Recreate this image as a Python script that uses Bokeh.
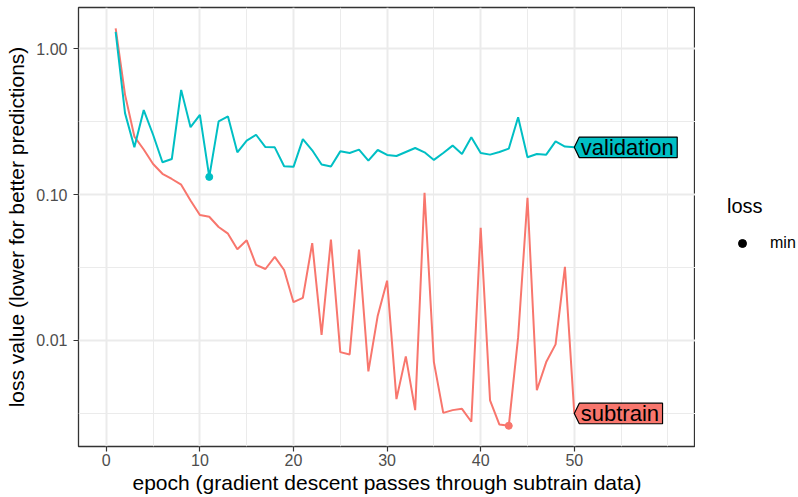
import math
from bokeh.plotting import figure
from bokeh.layouts import row
from bokeh.models import (Range1d, FixedTicker, CustomJSTickFormatter, Legend, LegendItem)
from bokeh.core.properties import value
from bokeh.embed import file_html
from bokeh.resources import INLINE

# ---- data -------------------------------------------------------------
epochs = list(range(1, 51))
subtrain = [1.38, 0.485, 0.25, 0.204, 0.162, 0.139, 0.128, 0.117, 0.0912, 0.0724,
            0.0705, 0.060, 0.054, 0.0422, 0.0486, 0.033, 0.0309, 0.0374, 0.0304, 0.0183,
            0.0196, 0.0465, 0.01094, 0.0492, 0.00832, 0.00802, 0.0420, 0.00614, 0.0148, 0.0257,
            0.00396, 0.00778, 0.00333, 0.1028, 0.00711, 0.00319, 0.00333, 0.0034, 0.00277, 0.0593,
            0.00389, 0.00265, 0.0026, 0.01054, 0.0951, 0.00456, 0.00711, 0.0094, 0.0320, 0.00316]
validation = [1.306, 0.362, 0.211, 0.380, 0.2574, 0.1667, 0.1755, 0.5226, 0.290, 0.3526,
              0.1323, 0.3175, 0.3434, 0.195, 0.2344, 0.2574, 0.212, 0.211, 0.1566, 0.155,
              0.2403, 0.2014, 0.1607, 0.1557, 0.198, 0.193, 0.2034, 0.171, 0.2023, 0.187,
              0.184, 0.196, 0.2088, 0.195, 0.173, 0.193, 0.2168, 0.190, 0.247, 0.193,
              0.188, 0.196, 0.2066, 0.3397, 0.1803, 0.190, 0.188, 0.2318, 0.2134, 0.211]
series_names = ["subtrain", "validation"]
series_values = [subtrain, validation]
series_colors = ["#F8766D", "#00BFC4"]
x_ticks = [0, 10, 20, 30, 40, 50]
y_ticks = [0.01, 0.1, 1.0]

# ---- layout -----------------------------------------------------------
W, H = 798, 497
LEG_W = 103                     # strip to the right holding the legend
BL, BT, BB = 78, 7, 51
PW = W - LEG_W
FW, FH = PW - BL, H - BT - BB
X_LO, X_HI = -2.97, 62.95
LOG_LO, LOG_HI = -2.727, 0.283
FONT = "Liberation Sans"

p = figure(width=PW, height=H, output_backend="svg", toolbar_location=None,
           x_range=Range1d(X_LO, X_HI), y_range=Range1d(10 ** LOG_LO, 10 ** LOG_HI),
           y_axis_type="log",
           min_border_left=BL, min_border_right=0, min_border_top=BT, min_border_bottom=BB,
           x_axis_label="epoch (gradient descent passes through subtrain data)",
           y_axis_label="loss value (lower for better predictions)")
p.background_fill_color = "white"
p.border_fill_color = "white"
p.outline_line_color = "#333333"
p.outline_line_width = 1.3

# ticks and grid: minor lines halfway between majors (log-halfway on y)
step = x_ticks[1] - x_ticks[0]
x_minor = [t + step / 2 for t in [x_ticks[0] - step] + x_ticks] + [x_ticks[-1] + step]
y_minor = [math.sqrt(a * b) for a, b in zip([y_ticks[0] / 10] + y_ticks, y_ticks + [y_ticks[-1] * 10])]
p.xaxis.ticker = FixedTicker(ticks=x_ticks, minor_ticks=x_minor)
p.yaxis.ticker = FixedTicker(ticks=y_ticks, minor_ticks=y_minor)
p.yaxis.formatter = CustomJSTickFormatter(code="return tick.toFixed(2);")

for ax in (p.xaxis[0], p.yaxis[0]):
    ax.axis_line_color = None
    ax.major_tick_line_color = "#333333"
    ax.major_tick_line_width = 1.2
    ax.major_tick_out = 5
    ax.major_tick_in = 0
    ax.minor_tick_out = 0
    ax.minor_tick_in = 0
    ax.major_label_text_font = FONT
    ax.major_label_text_font_size = "16px"
    ax.major_label_text_color = "#4D4D4D"
    ax.axis_label_text_font = FONT
    ax.axis_label_text_font_size = "21px"
    ax.axis_label_text_font_style = "normal"
    ax.axis_label_text_color = "black"
p.xaxis.major_label_standoff = 2
p.xaxis.axis_label_standoff = 2
p.yaxis.major_label_standoff = 6
p.yaxis.axis_label_standoff = 5

for g in (p.xgrid[0], p.ygrid[0]):
    g.grid_line_color = "#EBEBEB"
    g.grid_line_width = 2
    g.minor_grid_line_color = "#EBEBEB"
    g.minor_grid_line_width = 1

# ---- lines and minimum markers ---------------------------------------
for name, vals, col in zip(series_names, series_values, series_colors):
    p.line(epochs, vals, line_color=col, line_width=2)
min_idx = [min(range(len(v)), key=lambda k: v[k]) for v in series_values]
for vals, col, i in zip(series_values, series_colors, min_idx):
    p.scatter([epochs[i]], [vals[i]], size=7, fill_color=col, line_color=col)

# ---- direct labels: left-pointing boxes at the last epoch -------------
ADV = {"a": 556, "b": 556, "d": 556, "i": 222, "l": 222, "n": 556, "o": 556,
       "r": 333, "s": 500, "t": 278, "u": 556, "v": 500}
LABEL_PX = 22
dx = (X_HI - X_LO) / FW
dlog = (LOG_HI - LOG_LO) / FH
for name, vals, col in zip(series_names, series_values, series_colors):
    tip_x, v = epochs[-1], vals[-1]
    text_w = sum(ADV.get(c, 556) for c in name) * LABEL_PX / 1000
    left = tip_x + 5 * dx
    right = left + (text_w + 5) * dx
    up = v * 10 ** (10.3 * dlog)
    dn = v / 10 ** (10.3 * dlog)
    p.patch([tip_x, left, right, right, left], [v, up, up, dn, dn],
            fill_color=col, line_color="black", line_width=1.2)
    p.text([left + 1.5 * dx], [v], text=[name], text_font=value(FONT),
           text_font_size=f"{LABEL_PX}px", text_baseline="middle", text_align="left",
           text_color="black")

# ---- legend strip (generic black key for the minimum markers) ---------
lf = figure(width=LEG_W, height=H, output_backend="svg", toolbar_location=None,
            x_axis_location=None, y_axis_location=None, min_border=0,
            x_range=p.x_range, y_range=p.y_range, y_axis_type="log")
lf.outline_line_color = None
lf.grid.visible = False
lf.background_fill_color = "white"
lf.border_fill_color = "white"
key = lf.scatter([epochs[i] for i in min_idx], [v[i] for v, i in zip(series_values, min_idx)],
                 size=7, fill_color="black", line_color="black", visible=False)
legend = Legend(items=[LegendItem(label="min", renderers=[key], index=0)],
                title="loss", location=(32, 193), orientation="vertical",
                title_text_font=FONT, title_text_font_size="20px",
                title_text_font_style="normal", title_text_color="black",
                title_standoff=15,
                label_text_font=FONT, label_text_font_size="16px",
                label_text_color="black",
                glyph_width=30, glyph_height=20, label_standoff=13,
                padding=0, margin=0, spacing=0, click_policy="none",
                border_line_color=None, background_fill_color=None)
lf.add_layout(legend, "center")

layout = row(p, lf, spacing=0)
open("out.html", "w").write(file_html(layout, INLINE))
